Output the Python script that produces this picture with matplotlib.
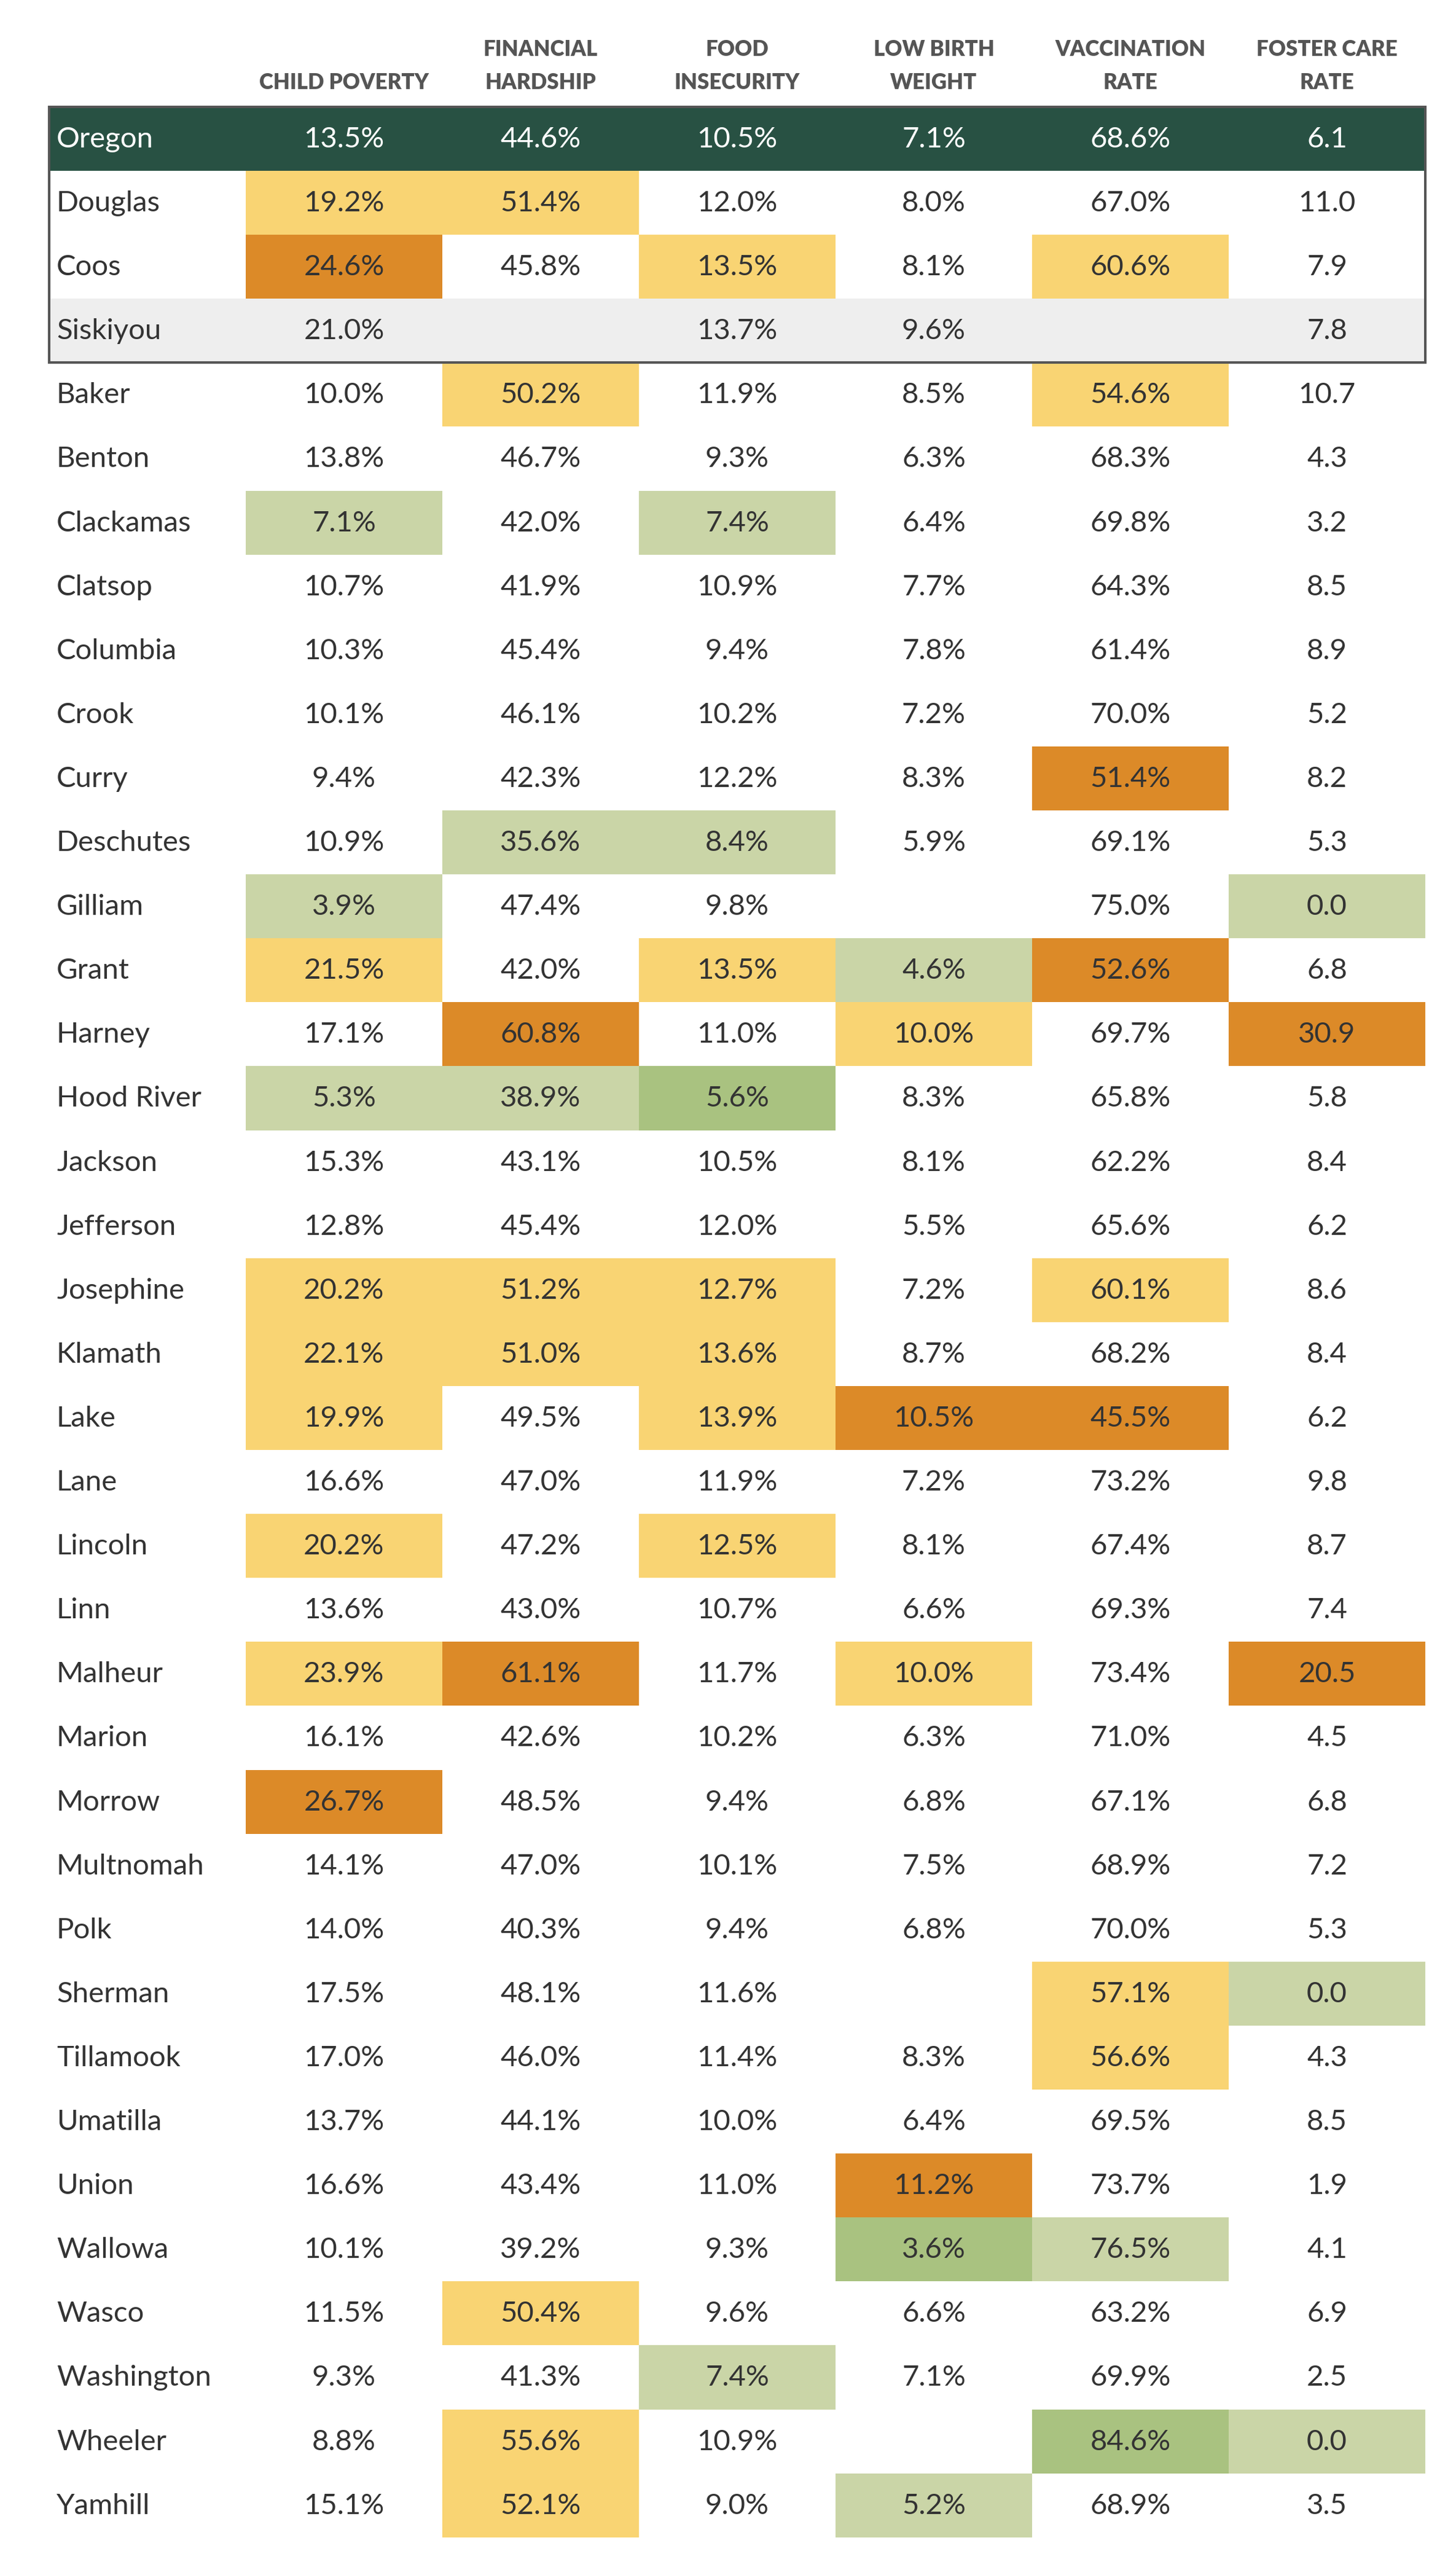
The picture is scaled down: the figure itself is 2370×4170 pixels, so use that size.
import matplotlib
matplotlib.use("Agg")
import matplotlib.pyplot as plt
import numpy as np
from matplotlib.colors import ListedColormap
from matplotlib.patches import Rectangle

# ---------------- data ----------------
headers = ["", "CHILD POVERTY", "FINANCIAL\nHARDSHIP", "FOOD\nINSECURITY",
           "LOW BIRTH\nWEIGHT", "VACCINATION\nRATE", "FOSTER CARE\nRATE"]

counties = ["Oregon", "Douglas", "Coos", "Siskiyou", "Baker", "Benton", "Clackamas",
            "Clatsop", "Columbia", "Crook", "Curry", "Deschutes", "Gilliam", "Grant",
            "Harney", "Hood River", "Jackson", "Jefferson", "Josephine", "Klamath",
            "Lake", "Lane", "Lincoln", "Linn", "Malheur", "Marion", "Morrow",
            "Multnomah", "Polk", "Sherman", "Tillamook", "Umatilla", "Union",
            "Wallowa", "Wasco", "Washington", "Wheeler", "Yamhill"]

child_poverty = [13.5, 19.2, 24.6, 21.0, 10.0, 13.8, 7.1, 10.7, 10.3, 10.1, 9.4, 10.9,
                 3.9, 21.5, 17.1, 5.3, 15.3, 12.8, 20.2, 22.1, 19.9, 16.6, 20.2, 13.6,
                 23.9, 16.1, 26.7, 14.1, 14.0, 17.5, 17.0, 13.7, 16.6, 10.1, 11.5, 9.3,
                 8.8, 15.1]
financial_hardship = [44.6, 51.4, 45.8, None, 50.2, 46.7, 42.0, 41.9, 45.4, 46.1, 42.3,
                      35.6, 47.4, 42.0, 60.8, 38.9, 43.1, 45.4, 51.2, 51.0, 49.5, 47.0,
                      47.2, 43.0, 61.1, 42.6, 48.5, 47.0, 40.3, 48.1, 46.0, 44.1, 43.4,
                      39.2, 50.4, 41.3, 55.6, 52.1]
food_insecurity = [10.5, 12.0, 13.5, 13.7, 11.9, 9.3, 7.4, 10.9, 9.4, 10.2, 12.2, 8.4,
                   9.8, 13.5, 11.0, 5.6, 10.5, 12.0, 12.7, 13.6, 13.9, 11.9, 12.5, 10.7,
                   11.7, 10.2, 9.4, 10.1, 9.4, 11.6, 11.4, 10.0, 11.0, 9.3, 9.6, 7.4,
                   10.9, 9.0]
low_birth_weight = [7.1, 8.0, 8.1, 9.6, 8.5, 6.3, 6.4, 7.7, 7.8, 7.2, 8.3, 5.9, None,
                    4.6, 10.0, 8.3, 8.1, 5.5, 7.2, 8.7, 10.5, 7.2, 8.1, 6.6, 10.0, 6.3,
                    6.8, 7.5, 6.8, None, 8.3, 6.4, 11.2, 3.6, 6.6, 7.1, None, 5.2]
vaccination_rate = [68.6, 67.0, 60.6, None, 54.6, 68.3, 69.8, 64.3, 61.4, 70.0, 51.4,
                    69.1, 75.0, 52.6, 69.7, 65.8, 62.2, 65.6, 60.1, 68.2, 45.5, 73.2,
                    67.4, 69.3, 73.4, 71.0, 67.1, 68.9, 70.0, 57.1, 56.6, 69.5, 73.7,
                    76.5, 63.2, 69.9, 84.6, 68.9]
foster_care_rate = [6.1, 11.0, 7.9, 7.8, 10.7, 4.3, 3.2, 8.5, 8.9, 5.2, 8.2, 5.3, 0.0,
                    6.8, 30.9, 5.8, 8.4, 6.2, 8.6, 8.4, 6.2, 9.8, 8.7, 7.4, 20.5, 4.5,
                    6.8, 7.2, 5.3, 0.0, 4.3, 8.5, 1.9, 4.1, 6.9, 2.5, 0.0, 3.5]

# highlight class per cell: . none, Y worse, O much worse, L better, G much better
highlights = ["......", "YY....", "O.Y.Y.", "......", ".Y..Y.", "......", "L.L...",
              "......", "......", "......", "....O.", ".LL...", "L....L", "Y.YLO.",
              ".O.Y.O", "LLG...", "......", "......", "YYY.Y.", "YYY...", "Y.YOO.",
              "......", "Y.Y...", "......", "YO.Y.O", "......", "O.....", "......",
              "......", "....YL", "....Y.", "......", "...O..", "...GL.", ".Y....",
              "..L...", ".Y..GL", ".Y.L.."]

state_row = "Oregon"
shaded_rows = ["Siskiyou"]
boxed_rows = 4

# ---------------- style ----------------
W, H = 2370, 4170
TOP, ROWH, LEFT, COLW = 174, 104.1, 80, 320
TEXT = "#333333"
HEAD = "#555555"
palette = ["#FFFFFF", "#F9D473", "#DC8A28", "#CAD5A7", "#A9C280", "#285143", "#EEEEEE"]
code_of = {".": 0, "Y": 1, "O": 2, "L": 3, "G": 4}

plt.rcParams["font.family"] = ["Lato", "DejaVu Sans"]

columns = [child_poverty, financial_hardship, food_insecurity,
           low_birth_weight, vaccination_rate, foster_care_rate]
n = len(counties)
ncol = len(columns) + 1

fig = plt.figure(figsize=(W / 100, H / 100), dpi=100)
ax = fig.add_axes([LEFT / W, 1 - (TOP + n * ROWH) / H, ncol * COLW / W, n * ROWH / H])
ax.set_xlim(0, ncol)
ax.set_ylim(n, 0)
ax.axis("off")

grid = np.zeros((n, ncol))
for i, name in enumerate(counties):
    if name == state_row:
        grid[i, :] = 5
    elif name in shaded_rows:
        grid[i, :] = 6
    else:
        for j, ch in enumerate(highlights[i]):
            grid[i, j + 1] = code_of[ch]

ax.pcolormesh(np.arange(ncol + 1), np.arange(n + 1), grid,
              cmap=ListedColormap(palette), vmin=-0.5, vmax=len(palette) - 0.5,
              shading="flat", antialiased=False, edgecolors="none")

BASE = 66 / ROWH
FS = 34
for i, name in enumerate(counties):
    color = "white" if name == state_row else TEXT
    ax.text(12 / COLW, i + BASE, name, ha="left", va="baseline",
            fontsize=FS, color=color)
    for j, col in enumerate(columns):
        v = col[i]
        if v is None:
            continue
        s = f"{v:.1f}" if j == len(columns) - 1 else f"{v:.1f}%"
        ax.text(j + 1.5, i + BASE, s, ha="center", va="baseline",
                fontsize=FS, color=color)

# headers
line2 = (145 - TOP) / ROWH
line1 = (91 - TOP) / ROWH
for j, h in enumerate(headers):
    if not h:
        continue
    parts = h.split("\n")
    ys = [line2] if len(parts) == 1 else [line1, line2]
    for part, y in zip(parts, ys):
        ax.text(j + 0.5, y, part, ha="center", va="baseline", fontsize=25,
                fontweight="heavy", color=HEAD, clip_on=False)

# box around state + focus rows
ax.add_patch(Rectangle((0, 0), ncol, boxed_rows, fill=False, edgecolor="#555555",
                       linewidth=2.9, clip_on=False, zorder=5))

fig.savefig("out.png", dpi=100, facecolor="white")
